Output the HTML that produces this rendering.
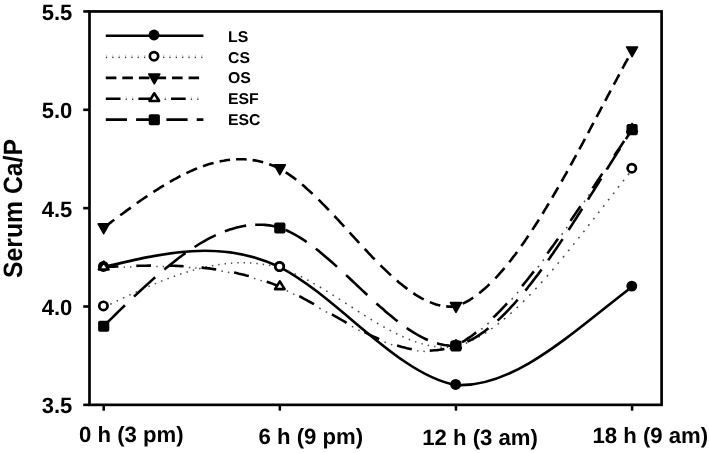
<!DOCTYPE html>
<html><head><meta charset="utf-8"><title>Serum Ca/P</title>
<style>
html,body{margin:0;padding:0;background:#fff;}
body{width:709px;height:453px;position:relative;overflow:hidden;}
</style></head><body>
<svg width="709" height="453" viewBox="0 0 709 453" style="position:absolute;left:0;top:0">
<rect x="0" y="0" width="709" height="453" fill="#fff"/>
<path d="M103.70 267.04 C162.41 252.97 221.12 238.90 279.83 267.04 C338.54 297.63 397.25 374.11 455.96 385.03 C514.67 388.31 573.38 331.50 632.09 286.71" fill="none" stroke="#000" stroke-width="2.60"/>
<path transform="translate(0.2,0.9)" d="M103.7 306.4 L105.1 305.7 M110.0 303.3 L111.5 302.7 M116.4 300.3 L117.8 299.6 M122.8 297.3 L124.2 296.6 M129.1 294.3 L130.5 293.6 M135.4 291.4 L136.8 290.7 M141.8 288.5 L143.2 287.9 M148.2 285.7 L149.6 285.1 M154.5 283.0 L155.9 282.5 M160.9 280.4 L162.2 279.9 M167.2 278.0 L168.6 277.4 M173.6 275.6 L175.0 275.1 M179.9 273.4 L181.3 272.9 M186.3 271.4 L187.7 270.9 M192.6 269.5 L194.0 269.1 M199.0 267.8 L200.4 267.4 M205.3 266.2 L206.7 265.9 M211.7 264.9 L213.1 264.7 M218.0 263.8 L219.4 263.6 M224.4 262.9 L225.8 262.8 M230.7 262.3 L232.1 262.2 M237.1 261.9 L238.5 261.9 M243.4 261.8 L244.8 261.9 M249.8 262.0 L251.2 262.1 M256.1 262.5 L257.5 262.6 M262.5 263.3 L263.9 263.5 M268.8 264.3 L270.2 264.6 M275.2 265.8 L276.6 266.1 M281.5 267.6 L282.9 268.1 M287.9 270.0 L289.2 270.5 M294.2 272.7 L295.6 273.3 M300.6 275.6 L302.0 276.3 M306.9 278.9 L308.3 279.6 M313.2 282.4 L314.6 283.2 M319.6 286.1 L321.0 286.9 M325.9 289.9 L327.4 290.8 M332.3 293.9 L333.7 294.7 M338.6 297.9 L340.0 298.8 M345.0 302.0 L346.4 302.9 M351.3 306.1 L352.8 307.0 M357.7 310.2 L359.1 311.1 M364.0 314.3 L365.4 315.2 M370.4 318.3 L371.8 319.1 M376.7 322.1 L378.1 322.9 M383.1 325.8 L384.5 326.6 M389.4 329.3 L390.8 330.0 M395.8 332.6 L397.2 333.3 M402.1 335.6 L403.5 336.2 M408.5 338.3 L409.9 338.8 M414.8 340.7 L416.2 341.2 M421.2 342.7 L422.6 343.1 M427.5 344.3 L428.9 344.6 M433.9 345.5 L435.3 345.7 M440.2 346.2 L441.6 346.3 M446.6 346.4 L448.0 346.4 M452.9 346.1 L454.3 345.9 M459.3 344.7 L460.7 344.2 M465.6 342.4 L467.0 341.8 M472.0 339.5 L473.4 338.8 M478.3 336.2 L479.7 335.4 M484.7 332.4 L486.1 331.5 M491.0 328.1 L492.4 327.1 M497.4 323.5 L498.8 322.4 M503.7 318.4 L505.1 317.2 M510.1 312.9 L511.5 311.7 M516.4 307.1 L517.8 305.8 M522.8 301.0 L524.2 299.6 M529.1 294.7 L530.4 293.3 M535.1 288.3 L536.4 286.9 M540.9 282.0 L542.2 280.6 M546.6 275.6 L547.8 274.2 M552.1 269.3 L553.3 267.9 M557.5 262.9 L558.6 261.5 M562.7 256.6 L563.9 255.2 M567.9 250.2 L569.1 248.8 M573.1 243.9 L574.2 242.5 M578.1 237.5 L579.2 236.1 M583.2 231.2 L584.3 229.8 M588.1 224.8 L589.2 223.4 M593.1 218.5 L594.2 217.1 M598.1 212.1 L599.1 210.7 M603.0 205.8 L604.1 204.4 M607.9 199.4 L609.0 198.0 M612.9 193.1 L614.0 191.7 M617.8 186.7 L618.9 185.3 M622.8 180.4 L623.9 179.0 M627.8 174.0 L629.0 172.6" fill="none" stroke="#484848" stroke-width="1.50"/>

<path d="M103.7 227.7 L105.8 226.1 L107.9 224.5 L110.1 222.9 L112.2 221.3 L114.3 219.8 M120.2 215.3 L122.4 213.8 L124.5 212.2 L126.6 210.6 L128.7 209.1 L130.8 207.6 M136.8 203.3 L138.9 201.8 L141.0 200.3 L143.2 198.8 L145.3 197.4 L147.4 196.0 M153.4 192.0 L155.5 190.6 L157.6 189.3 L159.7 187.9 L161.8 186.6 L164.0 185.3 M169.9 181.8 L172.0 180.6 L174.1 179.4 L176.3 178.3 L178.4 177.1 L180.5 176.0 M186.4 173.1 L188.6 172.1 L190.7 171.1 L192.8 170.2 L194.9 169.3 L197.1 168.4 M203.0 166.2 L205.1 165.4 L207.2 164.7 L209.4 164.1 L211.5 163.5 L213.6 162.9 M219.6 161.5 L221.7 161.0 L223.8 160.7 L225.9 160.3 L228.0 160.0 L230.1 159.8 M236.1 159.3 L238.2 159.3 L240.3 159.2 L242.5 159.3 L244.6 159.3 L246.7 159.5 M252.6 160.1 L254.8 160.4 L256.9 160.8 L259.0 161.3 L261.1 161.8 L263.2 162.3 M269.2 164.2 L271.3 165.0 L273.4 165.8 L275.6 166.7 L277.7 167.7 L279.8 168.7 M285.7 172.3 L287.8 173.6 L289.9 175.1 L292.0 176.6 L294.1 178.1 L296.2 179.8 M302.1 184.5 L304.2 186.3 L306.3 188.2 L308.4 190.1 L310.5 192.0 L312.6 193.9 M318.5 199.6 L320.6 201.7 L322.7 203.8 L324.8 205.9 L326.8 208.0 L328.9 210.1 M334.4 216.0 L336.4 218.1 L338.4 220.2 L340.3 222.3 L342.3 224.5 L344.2 226.6 M349.6 232.5 L351.5 234.6 L353.4 236.7 L355.4 238.8 L357.3 240.9 L359.2 243.0 M364.7 248.9 L366.7 251.0 L368.6 253.1 L370.6 255.2 L372.6 257.3 L374.7 259.4 M380.5 265.3 L382.6 267.4 L384.7 269.4 L386.8 271.4 L388.9 273.4 L391.0 275.4 M396.9 280.6 L399.0 282.4 L401.1 284.1 L403.2 285.8 L405.3 287.4 L407.4 289.0 M413.3 293.2 L415.4 294.6 L417.5 295.9 L419.6 297.1 L421.7 298.3 L423.8 299.4 M429.8 302.1 L431.9 302.9 L434.0 303.7 L436.1 304.4 L438.2 305.0 L440.3 305.5 M446.2 306.4 L448.3 306.6 L450.4 306.6 L452.5 306.6 L454.6 306.5 L456.7 306.1 M462.6 303.7 L464.8 302.6 L466.9 301.5 L469.0 300.3 L471.1 299.0 L473.2 297.6 M479.2 293.2 L481.3 291.5 L483.3 289.8 L485.4 288.0 L487.5 286.1 L489.5 284.1 M495.3 278.4 L497.2 276.3 L499.1 274.2 L500.9 272.2 L502.7 270.1 L504.5 268.0 M509.2 262.2 L510.8 260.2 L512.4 258.1 L514.0 256.0 L515.6 254.0 L517.1 251.9 M521.3 246.1 L522.8 244.0 L524.2 242.0 L525.6 239.9 L527.0 237.8 L528.4 235.8 M532.3 229.9 L533.6 227.9 L535.0 225.8 L536.3 223.7 L537.6 221.7 L538.9 219.6 M542.5 213.8 L543.8 211.7 L545.0 209.7 L546.3 207.6 L547.5 205.5 L548.8 203.5 M552.2 197.7 L553.4 195.6 L554.6 193.5 L555.8 191.5 L557.0 189.4 L558.2 187.3 M561.5 181.5 L562.7 179.5 L563.8 177.4 L565.0 175.3 L566.2 173.3 L567.3 171.2 M570.5 165.4 L571.7 163.3 L572.8 161.3 L573.9 159.2 L575.1 157.1 L576.2 155.1 M579.3 149.3 L580.5 147.2 L581.6 145.1 L582.7 143.1 L583.8 141.0 L584.9 138.9 M588.0 133.1 L589.1 131.1 L590.2 129.0 L591.3 126.9 L592.4 124.9 L593.5 122.8 M596.6 117.0 L597.7 114.9 L598.8 112.9 L599.9 110.8 L601.0 108.7 L602.1 106.7 M605.2 100.9 L606.3 98.8 L607.4 96.7 L608.5 94.7 L609.6 92.6 L610.7 90.5 M613.8 84.7 L614.9 82.7 L616.0 80.6 L617.1 78.5 L618.2 76.5 L619.3 74.4 M622.4 68.6 L623.5 66.5 L624.6 64.5 L625.7 62.4 L626.9 60.3 L628.0 58.3 M631.1 52.5 L632.1 50.7" fill="none" stroke="#000" stroke-width="2.60"/>

<path d="M103.7 267.0 L106.2 266.9 L108.6 266.8 L111.0 266.7 L113.5 266.6 L116.0 266.5 L118.4 266.5 M136.3 265.9 L138.8 265.8 L141.2 265.8 L143.7 265.7 L146.1 265.7 L148.6 265.6 L151.0 265.6 M168.9 265.7 L171.3 265.8 L173.8 265.8 L176.2 265.9 L178.7 266.0 L181.1 266.1 L183.6 266.2 M201.5 267.6 L203.9 267.9 L206.4 268.1 L208.9 268.4 L211.3 268.7 L213.8 269.1 L216.2 269.4 M234.1 272.6 L236.5 273.1 L239.0 273.7 L241.4 274.2 L243.9 274.8 L246.3 275.5 L248.8 276.1 M266.7 281.7 L269.1 282.5 L271.6 283.4 L274.1 284.4 L276.5 285.3 L279.0 286.3 L281.4 287.4 M299.3 296.2 L301.8 297.5 L304.2 298.8 L306.7 300.1 L309.1 301.5 L311.6 302.8 L314.0 304.2 M331.9 314.4 L334.4 315.8 L336.8 317.2 L339.3 318.6 L341.7 320.0 L344.2 321.4 L346.6 322.8 M364.5 332.2 L367.0 333.4 L369.4 334.6 L371.9 335.8 L374.3 336.9 L376.8 338.0 L379.2 339.1 M397.1 345.6 L399.6 346.3 L402.0 347.0 L404.4 347.6 L406.9 348.2 L409.4 348.7 L411.8 349.1 M429.7 350.6 L432.1 350.5 L434.6 350.3 L437.1 350.1 L439.5 349.8 L441.9 349.4 L444.4 349.0 M462.0 342.2 L464.4 340.8 L466.8 339.2 L469.1 337.6 L471.5 336.0 L473.8 334.2 L476.2 332.4 M493.3 317.4 L495.7 315.2 L498.0 312.8 L500.4 310.5 L502.6 308.1 L504.8 305.8 L507.0 303.4 M522.1 286.1 L524.1 283.7 L526.1 281.2 L528.1 278.8 L530.0 276.3 L531.9 273.9 L533.9 271.4 M547.4 253.5 L549.2 251.1 L550.9 248.6 L552.7 246.2 L554.5 243.7 L556.2 241.3 L558.0 238.8 M570.5 220.9 L572.1 218.5 L573.8 216.0 L575.5 213.6 L577.2 211.1 L578.8 208.7 L580.5 206.2 M592.5 188.3 L594.2 185.9 L595.8 183.4 L597.4 181.0 L599.1 178.5 L600.7 176.1 L602.3 173.6 M614.3 155.7 L615.9 153.3 L617.6 150.8 L619.2 148.4 L620.9 145.9 L622.5 143.5 L624.2 141.0" fill="none" stroke="#000" stroke-width="2.60"/>
<path transform="translate(0.2,0.9)" d="M123.5 266.3 L124.8 266.2 M129.8 266.0 L131.2 266.0 M156.1 265.6 L157.4 265.6 M162.4 265.6 L163.8 265.6 M188.6 266.5 L190.1 266.6 M195.1 267.0 L196.4 267.1 M221.2 270.2 L222.7 270.4 M227.7 271.3 L229.1 271.6 M253.8 277.5 L255.2 277.9 M260.2 279.5 L261.6 279.9 M286.5 289.7 L287.9 290.4 M292.9 292.9 L294.2 293.6 M319.1 307.1 L320.5 307.9 M325.5 310.7 L326.9 311.5 M351.7 325.5 L353.1 326.3 M358.1 328.9 L359.5 329.7 M384.3 341.1 L385.7 341.7 M390.7 343.5 L392.1 344.0 M416.9 349.9 L418.2 350.0 M423.2 350.4 L424.6 350.5 M449.4 347.8 L450.8 347.4 M455.8 345.7 L457.2 345.0 M481.0 328.5 L482.4 327.4 M487.2 323.2 L488.5 322.0 M511.4 298.6 L512.6 297.2 M516.8 292.4 L517.9 291.1 M537.7 266.4 L538.8 265.0 M542.6 260.0 L543.6 258.6 M561.5 233.8 L562.5 232.4 M566.0 227.4 L567.0 226.0 M583.9 201.2 L584.8 199.8 M588.2 194.8 L589.1 193.4 M605.7 168.6 L606.6 167.2 M610.0 162.2 L610.9 160.8 M627.6 136.0 L628.5 134.6 M632.0 129.6 L632.1 129.4" fill="none" stroke="#484848" stroke-width="1.50"/>

<path d="M103.7 326.0 L106.1 323.7 L108.4 321.4 L110.8 319.1 L113.1 316.8 L115.5 314.5 L117.8 312.2 L120.2 309.9 L122.5 307.6 L124.9 305.3 M134.0 296.6 L136.4 294.4 L138.7 292.2 L141.1 290.0 L143.4 287.9 L145.8 285.7 L148.1 283.6 L150.5 281.5 L152.8 279.4 L155.2 277.3 M164.3 269.5 L166.7 267.6 L169.0 265.7 L171.4 263.8 L173.7 261.9 L176.1 260.1 L178.4 258.3 L180.8 256.5 L183.1 254.8 L185.5 253.1 M194.6 247.0 L197.0 245.5 L199.3 244.0 L201.7 242.6 L204.0 241.3 L206.4 239.9 L208.7 238.7 L211.1 237.4 L213.4 236.3 L215.8 235.1 M224.9 231.3 L227.3 230.4 L229.6 229.6 L232.0 228.9 L234.3 228.2 L236.7 227.5 L239.0 227.0 L241.4 226.4 L243.7 226.0 L246.1 225.6 M255.2 224.7 L257.6 224.7 L259.9 224.7 L262.3 224.8 L264.6 224.9 L267.0 225.1 L269.3 225.4 L271.7 225.8 L274.0 226.3 L276.4 226.8 M285.5 229.9 L287.9 231.0 L290.2 232.1 L292.6 233.4 L294.9 234.6 L297.3 236.0 L299.6 237.4 L302.0 238.9 L304.3 240.4 L306.7 242.0 M315.8 248.7 L318.2 250.6 L320.5 252.5 L322.9 254.4 L325.2 256.4 L327.6 258.4 L329.9 260.4 L332.3 262.5 L334.6 264.6 L337.0 266.7 M346.1 275.1 L348.5 277.3 L350.8 279.5 L353.2 281.7 L355.5 283.9 L357.9 286.2 L360.2 288.4 L362.6 290.6 L364.9 292.8 L367.3 295.0 M376.4 303.4 L378.8 305.5 L381.1 307.6 L383.5 309.6 L385.8 311.7 L388.2 313.7 L390.5 315.6 L392.9 317.6 L395.2 319.5 L397.6 321.3 M406.7 328.0 L409.1 329.6 L411.4 331.1 L413.8 332.6 L416.1 334.0 L418.5 335.4 L420.8 336.6 L423.2 337.8 L425.5 339.0 L427.9 340.0 M437.0 343.3 L439.4 344.0 L441.7 344.5 L444.1 345.0 L446.4 345.3 L448.8 345.6 L451.1 345.7 L453.5 345.8 L455.8 345.7 L458.2 345.1 M467.3 341.6 L469.7 340.5 L472.0 339.3 L474.4 338.0 L476.7 336.6 L479.1 335.1 L481.4 333.5 L483.8 331.9 L486.1 330.1 L488.5 328.3 M497.6 320.6 L500.0 318.4 L502.3 316.1 L504.7 313.8 L507.0 311.4 L509.2 309.1 L511.4 306.7 L513.6 304.4 L515.7 302.0 L517.7 299.7 M525.4 290.6 L527.3 288.2 L529.1 285.8 L531.0 283.5 L532.8 281.1 L534.6 278.8 L536.4 276.4 L538.2 274.1 L539.9 271.7 L541.6 269.4 M548.1 260.3 L549.8 257.9 L551.4 255.5 L553.1 253.2 L554.7 250.8 L556.3 248.5 L557.9 246.1 L559.5 243.8 L561.1 241.4 L562.6 239.1 M568.6 230.0 L570.1 227.6 L571.7 225.2 L573.2 222.9 L574.7 220.5 L576.2 218.2 L577.7 215.8 L579.2 213.5 L580.7 211.1 L582.2 208.8 M588.0 199.7 L589.4 197.3 L590.9 194.9 L592.4 192.6 L593.9 190.2 L595.3 187.9 L596.8 185.5 L598.3 183.2 L599.7 180.8 L601.2 178.5 M606.9 169.4 L608.3 167.0 L609.8 164.6 L611.3 162.3 L612.8 159.9 L614.2 157.6 L615.7 155.2 L617.2 152.9 L618.7 150.5 L620.1 148.2 M625.9 139.1 L627.4 136.6 L629.0 134.2 L630.5 131.8 L632.1 129.4" fill="none" stroke="#000" stroke-width="2.60"/>

<circle cx="103.40" cy="266.44" r="5.45" fill="#000"/>
<circle cx="279.53" cy="266.44" r="5.45" fill="#000"/>
<circle cx="455.66" cy="384.43" r="5.45" fill="#000"/>
<circle cx="631.79" cy="286.11" r="5.45" fill="#000"/>
<circle cx="103.40" cy="305.88" r="4.15" fill="#fff" stroke="#000" stroke-width="2.7"/>
<circle cx="279.53" cy="266.54" r="4.15" fill="#fff" stroke="#000" stroke-width="2.7"/>
<circle cx="455.66" cy="345.21" r="4.15" fill="#fff" stroke="#000" stroke-width="2.7"/>
<circle cx="631.79" cy="168.22" r="4.15" fill="#fff" stroke="#000" stroke-width="2.7"/>
<path d="M98.20 223.91 L109.20 223.91 L103.70 233.71 Z" fill="#000" stroke="#000" stroke-width="1.6" stroke-linejoin="round"/>
<path d="M274.33 164.92 L285.33 164.92 L279.83 174.72 Z" fill="#000" stroke="#000" stroke-width="1.6" stroke-linejoin="round"/>
<path d="M450.46 302.57 L461.46 302.57 L455.96 312.38 Z" fill="#000" stroke="#000" stroke-width="1.6" stroke-linejoin="round"/>
<path d="M626.59 46.93 L637.59 46.93 L632.09 56.73 Z" fill="#000" stroke="#000" stroke-width="1.6" stroke-linejoin="round"/>
<path d="M98.90 269.44 L108.50 269.44 L103.70 261.74 Z" fill="#fff" stroke="#000" stroke-width="2.6" stroke-linejoin="round"/>
<path d="M275.03 289.11 L284.63 289.11 L279.83 281.41 Z" fill="#fff" stroke="#000" stroke-width="2.6" stroke-linejoin="round"/>
<path d="M451.16 348.11 L460.76 348.11 L455.96 340.41 Z" fill="#fff" stroke="#000" stroke-width="2.6" stroke-linejoin="round"/>
<path d="M627.29 131.79 L636.89 131.79 L632.09 124.09 Z" fill="#fff" stroke="#000" stroke-width="2.6" stroke-linejoin="round"/>
<rect x="98.10" y="320.74" width="11.20" height="11.10" rx="1.8" fill="#000"/>
<rect x="274.23" y="222.41" width="11.20" height="11.10" rx="1.8" fill="#000"/>
<rect x="450.36" y="340.41" width="11.20" height="11.10" rx="1.8" fill="#000"/>
<rect x="626.49" y="124.09" width="11.20" height="11.10" rx="1.8" fill="#000"/>
<rect x="89.50" y="11.45" width="572.10" height="393.40" fill="none" stroke="#000" stroke-width="2.7"/>
<line x1="83.2" x2="89.50" y1="404.85" y2="404.85" stroke="#000" stroke-width="2.6"/>
<line x1="83.2" x2="89.50" y1="306.50" y2="306.50" stroke="#000" stroke-width="2.6"/>
<line x1="83.2" x2="89.50" y1="208.15" y2="208.15" stroke="#000" stroke-width="2.6"/>
<line x1="83.2" x2="89.50" y1="109.80" y2="109.80" stroke="#000" stroke-width="2.6"/>
<line x1="83.2" x2="89.50" y1="11.45" y2="11.45" stroke="#000" stroke-width="2.6"/>
<line x1="103.70" x2="103.70" y1="404.85" y2="410.7" stroke="#000" stroke-width="2.5"/>
<line x1="279.83" x2="279.83" y1="404.85" y2="410.7" stroke="#000" stroke-width="2.5"/>
<line x1="455.96" x2="455.96" y1="404.85" y2="410.7" stroke="#000" stroke-width="2.5"/>
<line x1="632.09" x2="632.09" y1="404.85" y2="410.7" stroke="#000" stroke-width="2.5"/>
<line x1="105.8" x2="203.4" y1="35.70" y2="35.70" stroke="#000" stroke-width="2.60"/>
<circle cx="154.00" cy="35.00" r="5.45" fill="#000"/>
<rect x="105.90" y="54.60" width="1.2" height="2.1" fill="#d4d4d4"/><rect x="105.85" y="56.70" width="1.3" height="1.4" fill="#3a3a3a"/><rect x="112.25" y="54.60" width="1.2" height="2.1" fill="#d4d4d4"/><rect x="112.20" y="56.70" width="1.3" height="1.4" fill="#3a3a3a"/><rect x="118.60" y="54.60" width="1.2" height="2.1" fill="#d4d4d4"/><rect x="118.55" y="56.70" width="1.3" height="1.4" fill="#3a3a3a"/><rect x="124.95" y="54.60" width="1.2" height="2.1" fill="#d4d4d4"/><rect x="124.90" y="56.70" width="1.3" height="1.4" fill="#3a3a3a"/><rect x="131.30" y="54.60" width="1.2" height="2.1" fill="#d4d4d4"/><rect x="131.25" y="56.70" width="1.3" height="1.4" fill="#3a3a3a"/><rect x="137.65" y="54.60" width="1.2" height="2.1" fill="#d4d4d4"/><rect x="137.60" y="56.70" width="1.3" height="1.4" fill="#3a3a3a"/><rect x="144.00" y="54.60" width="1.2" height="2.1" fill="#d4d4d4"/><rect x="143.95" y="56.70" width="1.3" height="1.4" fill="#3a3a3a"/><rect x="150.35" y="54.60" width="1.2" height="2.1" fill="#d4d4d4"/><rect x="150.30" y="56.70" width="1.3" height="1.4" fill="#3a3a3a"/><rect x="156.70" y="54.60" width="1.2" height="2.1" fill="#d4d4d4"/><rect x="156.65" y="56.70" width="1.3" height="1.4" fill="#3a3a3a"/><rect x="163.05" y="54.60" width="1.2" height="2.1" fill="#d4d4d4"/><rect x="163.00" y="56.70" width="1.3" height="1.4" fill="#3a3a3a"/><rect x="169.40" y="54.60" width="1.2" height="2.1" fill="#d4d4d4"/><rect x="169.35" y="56.70" width="1.3" height="1.4" fill="#3a3a3a"/><rect x="175.75" y="54.60" width="1.2" height="2.1" fill="#d4d4d4"/><rect x="175.70" y="56.70" width="1.3" height="1.4" fill="#3a3a3a"/><rect x="182.10" y="54.60" width="1.2" height="2.1" fill="#d4d4d4"/><rect x="182.05" y="56.70" width="1.3" height="1.4" fill="#3a3a3a"/><rect x="188.45" y="54.60" width="1.2" height="2.1" fill="#d4d4d4"/><rect x="188.40" y="56.70" width="1.3" height="1.4" fill="#3a3a3a"/><rect x="194.80" y="54.60" width="1.2" height="2.1" fill="#d4d4d4"/><rect x="194.75" y="56.70" width="1.3" height="1.4" fill="#3a3a3a"/><rect x="201.15" y="54.60" width="1.2" height="2.1" fill="#d4d4d4"/><rect x="201.10" y="56.70" width="1.3" height="1.4" fill="#3a3a3a"/>

<circle cx="154.00" cy="56.20" r="4.15" fill="#fff" stroke="#000" stroke-width="2.7"/>
<path d="M105.8 77.9 L107.9 77.9 L110.0 77.9 L112.2 77.9 L114.3 77.9 L116.4 77.9 M122.3 77.9 L124.5 77.9 L126.6 77.9 L128.7 77.9 L130.8 77.9 L132.9 77.9 M138.9 77.9 L141.0 77.9 L143.1 77.9 L145.3 77.9 L147.4 77.9 L149.5 77.9 M155.4 77.9 L157.6 77.9 L159.7 77.9 L161.8 77.9 L163.9 77.9 L166.1 77.9 M172.0 77.9 L174.1 77.9 L176.2 77.9 L178.4 77.9 L180.5 77.9 L182.6 77.9 M188.6 77.9 L190.7 77.9 L192.8 77.9 L194.9 77.9 L197.0 77.9 L199.1 77.9" fill="none" stroke="#000" stroke-width="2.60"/>

<path d="M148.80 74.00 L159.80 74.00 L154.30 83.80 Z" fill="#000" stroke="#000" stroke-width="1.6" stroke-linejoin="round"/>
<path d="M105.8 98.7 L108.2 98.7 L110.7 98.7 L113.1 98.7 L115.6 98.7 L118.0 98.7 L120.5 98.7 M138.4 98.7 L140.8 98.7 L143.3 98.7 L145.8 98.7 L148.2 98.7 L150.6 98.7 L153.1 98.7 M171.0 98.7 L173.4 98.7 L175.9 98.7 L178.3 98.7 L180.8 98.7 L183.2 98.7 L185.7 98.7" fill="none" stroke="#000" stroke-width="2.60"/>
<rect x="125.65" y="96.50" width="1.2" height="2.1" fill="#d4d4d4"/><rect x="125.60" y="98.60" width="1.3" height="1.4" fill="#3a3a3a"/><rect x="132.05" y="96.50" width="1.2" height="2.1" fill="#d4d4d4"/><rect x="132.00" y="98.60" width="1.3" height="1.4" fill="#3a3a3a"/><rect x="158.25" y="96.50" width="1.2" height="2.1" fill="#d4d4d4"/><rect x="158.20" y="98.60" width="1.3" height="1.4" fill="#3a3a3a"/><rect x="164.65" y="96.50" width="1.2" height="2.1" fill="#d4d4d4"/><rect x="164.60" y="98.60" width="1.3" height="1.4" fill="#3a3a3a"/><rect x="190.85" y="96.50" width="1.2" height="2.1" fill="#d4d4d4"/><rect x="190.80" y="98.60" width="1.3" height="1.4" fill="#3a3a3a"/><rect x="197.25" y="96.50" width="1.2" height="2.1" fill="#d4d4d4"/><rect x="197.20" y="98.60" width="1.3" height="1.4" fill="#3a3a3a"/>

<path d="M149.50 101.00 L159.10 101.00 L154.30 93.30 Z" fill="#fff" stroke="#000" stroke-width="2.6" stroke-linejoin="round"/>
<path d="M105.8 119.6 L108.2 119.6 L110.5 119.6 L112.9 119.6 L115.2 119.6 L117.6 119.6 L119.9 119.6 L122.3 119.6 L124.6 119.6 L127.0 119.6 M136.1 119.6 L138.5 119.6 L140.8 119.6 L143.2 119.6 L145.5 119.6 L147.9 119.6 L150.2 119.6 L152.6 119.6 L154.9 119.6 L157.3 119.6 M166.4 119.6 L168.8 119.6 L171.1 119.6 L173.5 119.6 L175.8 119.6 L178.2 119.6 L180.5 119.6 L182.9 119.6 L185.2 119.6 L187.6 119.6 M196.7 119.6 L198.9 119.6 L201.2 119.6 L203.4 119.6" fill="none" stroke="#000" stroke-width="2.60"/>

<rect x="148.70" y="114.20" width="11.20" height="11.10" rx="1.8" fill="#000"/>
<g font-family="&quot;Liberation Sans&quot;, Arial, Helvetica, sans-serif" font-weight="bold" fill="#000" text-rendering="geometricPrecision">
<text x="72.3" y="413.20" font-size="22" text-anchor="end">3.5</text>
<text x="72.3" y="314.88" font-size="22" text-anchor="end">4.0</text>
<text x="72.3" y="216.55" font-size="22" text-anchor="end">4.5</text>
<text x="72.3" y="118.23" font-size="22" text-anchor="end">5.0</text>
<text x="72.3" y="19.90" font-size="22" text-anchor="end">5.5</text>
<text x="79.00" y="441.60" font-size="22.15">0 h (3 pm)</text>
<text x="258.50" y="443.60" font-size="22.15">6 h (9 pm)</text>
<text x="422.20" y="445.20" font-size="22.15">12 h (3 am)</text>
<text x="592.50" y="442.60" font-size="22.15">18 h (9 am)</text>
<text transform="translate(228.0,42.00) scale(1.013,1)" font-size="15.6">LS</text>
<text transform="translate(228.0,62.70) scale(1.013,1)" font-size="15.6">CS</text>
<text transform="translate(228.0,83.40) scale(1.013,1)" font-size="15.6">OS</text>
<text transform="translate(228.0,104.10) scale(1.013,1)" font-size="15.6">ESF</text>
<text transform="translate(228.0,124.80) scale(1.013,1)" font-size="15.6">ESC</text>
<text transform="translate(22.2,278.0) rotate(-90) scale(1,1.07)" font-size="24.75">Serum Ca/P</text>
</g>
</svg>
</body></html>
